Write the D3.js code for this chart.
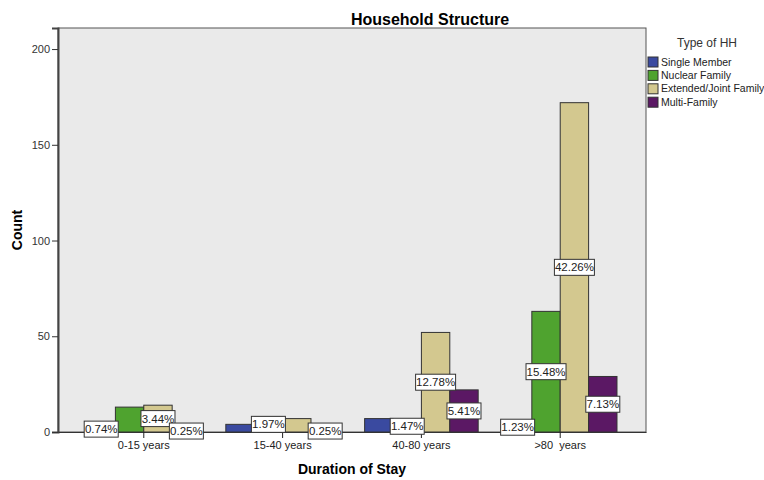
<!DOCTYPE html>
<html>
<head>
<meta charset="utf-8">
<script src="https://cdn.jsdelivr.net/npm/d3@7"></script>
<style>
  body { margin: 0; background: #fff; }
  text { font-family: Arial, "Liberation Sans", sans-serif; }
</style>
</head>
<body>
<div id="chart"></div>
<script>
// Data (counts, N = 407)
const durations = ["0-15 years", "15-40 years", "40-80 years", ">80  years"];
const hhTypes = ["Single Member", "Nuclear Family", "Extended/Joint Family", "Multi-Family"];
const singleMember = [3, 4, 7, 5];
const nuclearFamily = [13, 8, 6, 63];
const extendedFamily = [14, 7, 52, 172];
const multiFamily = [1, 1, 22, 29];
// which percentage labels are visible (others hidden by overlap in the original)
const showSingle = [true, false, false, true];
const showNuclear = [false, true, true, true];
const showExtended = [true, false, true, true];
const showMulti = [true, true, true, true];
const yTicks = [0, 50, 100, 150, 200];
const colours = ["#3a4aa0", "#4fa32f", "#d3c88f", "#5b1864"];

let width = 764, height = 480;
let margin = {top: 28, right: 118, bottom: 48, left: 58};

let svg = d3.select("#chart").append("svg")
    .attr("width", width)
    .attr("height", height);

let seriesValues = [singleMember, nuclearFamily, extendedFamily, multiFamily];
let seriesShow = [showSingle, showNuclear, showExtended, showMulti];
let total = d3.sum(seriesValues.map(s => d3.sum(s)));

let x0 = d3.scaleBand()
    .domain(durations)
    .range([margin.left, width - margin.right])
    .paddingInner(0.182)
    .paddingOuter(0.209);
let x1 = d3.scaleBand()
    .domain(hhTypes)
    .range([0, x0.bandwidth()]);
let y = d3.scaleLinear()
    .domain([0, 211])
    .range([height - margin.bottom, margin.top]);

// plot background + frame
svg.append("rect")
    .attr("x", margin.left).attr("y", margin.top)
    .attr("width", width - margin.left - margin.right)
    .attr("height", height - margin.top - margin.bottom)
    .attr("fill", "#eaeaea")
    .attr("stroke", "#555").attr("stroke-width", 1);

//bars
let rows = [];
seriesValues.forEach(function(vals, s) {
    vals.forEach(function(v, i) {
        rows.push({dur: durations[i], type: hhTypes[s], s: s, value: v, show: seriesShow[s][i]});
    });
});

svg.append("g").selectAll("rect")
    .data(rows)
    .join("rect")
    .attr("x", d => x0(d.dur) + x1(d.type))
    .attr("y", d => y(d.value))
    .attr("width", x1.bandwidth())
    .attr("height", d => y(0) - y(d.value))
    .attr("fill", d => colours[d.s])
    .attr("stroke", "#333")
    .attr("stroke-width", 1);

// axes
let yAxis = svg.append("g")
    .attr("transform", "translate(" + margin.left + ",0)")
    .call(d3.axisLeft(y).tickValues(yTicks).tickSize(6).tickPadding(2));
yAxis.select(".domain").attr("stroke", "#444").attr("stroke-width", 2);
yAxis.selectAll("text").attr("font-size", 11).attr("fill", "#333");
yAxis.selectAll("line").attr("stroke", "#333");

let xAxis = svg.append("g")
    .attr("transform", "translate(0," + y(0) + ")")
    .call(d3.axisBottom(x0).tickSize(6).tickPadding(3).tickSizeOuter(0));
xAxis.select(".domain").attr("stroke", "#333");
xAxis.selectAll("text").attr("font-size", 11).attr("fill", "#222")
    .style("white-space", "pre");
xAxis.selectAll("line").attr("stroke", "#222");

// percentage labels in the middle of each bar
let labels = svg.append("g").selectAll("g")
    .data(rows.filter(d => d.show))
    .join("g")
    .attr("transform", d => "translate(" + (x0(d.dur) + x1(d.type) + x1.bandwidth() / 2) + "," + y(d.value / 2) + ")");
labels.append("rect")
    .attr("x", d => d.value / total >= 0.1 ? -20 : -17)
    .attr("y", -8)
    .attr("width", d => d.value / total >= 0.1 ? 40 : 34)
    .attr("height", 16)
    .attr("fill", "#fff")
    .attr("stroke", "#333")
    .attr("stroke-width", 1);
labels.append("text")
    .attr("text-anchor", "middle")
    .attr("dy", "0.36em")
    .attr("font-size", 11.5)
    .attr("fill", "#222")
    .text(d => (d.value / total * 100).toFixed(2) + "%");

// titles
svg.append("text")
    .attr("x", 430).attr("y", 25)
    .attr("text-anchor", "middle")
    .attr("font-size", 16).attr("font-weight", "bold")
    .text("Household Structure");
svg.append("text")
    .attr("x", (margin.left + width - margin.right) / 2).attr("y", 474)
    .attr("text-anchor", "middle")
    .attr("font-size", 14).attr("font-weight", "bold")
    .text("Duration of Stay");
svg.append("text")
    .attr("transform", "translate(22," + 230 + ") rotate(-90)")
    .attr("text-anchor", "middle")
    .attr("font-size", 14).attr("font-weight", "bold")
    .text("Count");

// legend
let legend = svg.append("g").attr("transform", "translate(648,0)");
legend.append("text")
    .attr("x", 59).attr("y", 47)
    .attr("text-anchor", "middle")
    .attr("font-size", 12).attr("fill", "#333")
    .text("Type of HH");
let items = legend.selectAll("g.item")
    .data(hhTypes)
    .join("g")
    .attr("class", "item")
    .attr("transform", (d, i) => "translate(0," + (57 + i * 13.4) + ")");
items.append("rect")
    .attr("width", 10).attr("height", 10)
    .attr("fill", (d, i) => colours[i])
    .attr("stroke", "#333");
items.append("text")
    .attr("x", 13).attr("y", 5).attr("dy", "0.35em")
    .attr("font-size", 10.5).attr("fill", "#222")
    .text(d => d);
</script>
</body>
</html>
